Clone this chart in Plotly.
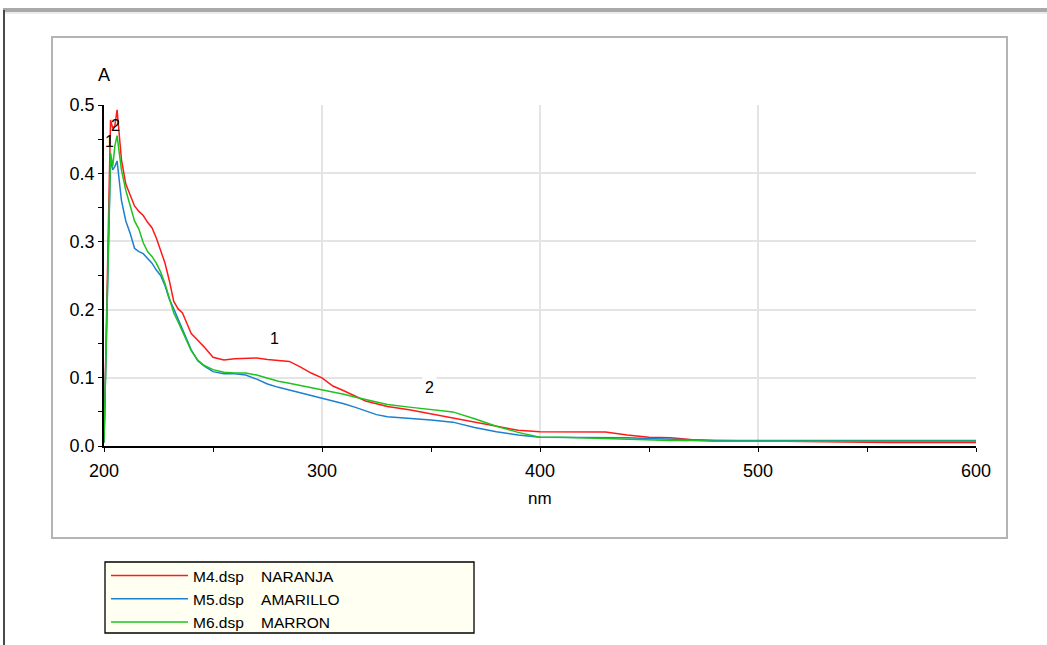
import plotly.graph_objects as go

# Wavelength grid (nm) shared by the three spectra
wavelength = [200, 201, 202, 203, 204, 205, 206, 207, 208, 210, 212, 214, 216, 218,
              220, 222, 224, 226, 228, 230, 232, 234, 236, 238, 240, 243, 246, 250,
              255, 260, 265, 270, 275, 280, 285, 290, 295, 300, 305, 310, 315, 320,
              325, 330, 340, 350, 360, 370, 380, 390, 400, 410, 420, 430, 440, 450,
              460, 470, 480, 500, 520, 540, 560, 580, 600]

# Absorbance of each sample
abs_m4 = [0.005, 0.18, 0.34, 0.478, 0.466, 0.47, 0.493, 0.455, 0.42, 0.384, 0.368, 0.352,
          0.344, 0.338, 0.328, 0.32, 0.305, 0.287, 0.268, 0.242, 0.212, 0.201, 0.195, 0.180,
          0.165, 0.155, 0.145, 0.130, 0.126, 0.128, 0.129, 0.129, 0.127, 0.126, 0.124,
          0.116, 0.107, 0.100, 0.088, 0.081, 0.074, 0.066, 0.062, 0.058, 0.053, 0.047,
          0.042, 0.036, 0.029, 0.023, 0.021, 0.021, 0.021, 0.0205, 0.016, 0.013, 0.012,
          0.009, 0.008, 0.007, 0.007, 0.006, 0.005, 0.005, 0.005]
abs_m5 = [0.005, 0.15, 0.30, 0.42, 0.405, 0.41, 0.418, 0.39, 0.36, 0.33, 0.312, 0.29,
          0.285, 0.282, 0.275, 0.268, 0.258, 0.25, 0.235, 0.215, 0.201, 0.187, 0.171, 0.156,
          0.141, 0.125, 0.117, 0.109, 0.106, 0.106, 0.104, 0.098, 0.091, 0.086, 0.082,
          0.078, 0.074, 0.071, 0.067, 0.062, 0.057, 0.051, 0.046, 0.043, 0.041, 0.038,
          0.035, 0.027, 0.021, 0.016, 0.013, 0.013, 0.013, 0.013, 0.012, 0.011, 0.010,
          0.009, 0.008, 0.008, 0.008, 0.008, 0.009, 0.009, 0.008]
abs_m6 = [0.005, 0.16, 0.31, 0.43, 0.41, 0.44, 0.455, 0.425, 0.405, 0.375, 0.352, 0.33,
          0.318, 0.298, 0.285, 0.278, 0.268, 0.255, 0.238, 0.218, 0.195, 0.182, 0.168, 0.155,
          0.140, 0.126, 0.118, 0.112, 0.108, 0.107, 0.107, 0.104, 0.099, 0.095, 0.092,
          0.089, 0.085, 0.082, 0.079, 0.076, 0.072, 0.068, 0.064, 0.061, 0.057, 0.054,
          0.050, 0.040, 0.029, 0.020, 0.013, 0.013, 0.012, 0.010, 0.009, 0.008, 0.008,
          0.008, 0.007, 0.007, 0.007, 0.007, 0.008, 0.008, 0.007]

series_names = ["M4.dsp\u00a0\u00a0\u00a0\u00a0NARANJA",
                "M5.dsp\u00a0\u00a0\u00a0\u00a0AMARILLO",
                "M6.dsp\u00a0\u00a0\u00a0\u00a0MARRON"]
series_colors = ["#ff1a1a", "#1b80d0", "#1ec31e"]

# Peak labels: (wavelength, absorbance, text)
peak_x = [202.3, 205.5, 278.2, 349.1]
peak_y = [0.446, 0.470, 0.158, 0.0858]
peak_text = ["1", "2", "1", "2"]

x_range = [200, 600]
y_range = [0, 0.5]

FONT = "Liberation Sans, Arial, sans-serif"

# Figure geometry (pixels) used to place frame decorations in paper coordinates
W, H = 1047, 645
ML, MR, MT, MB = 104, 71, 105, 199
PW, PH = W - ML - MR, H - MT - MB


def px(xp):
    return (xp - ML) / PW


def py(yp):
    return (H - MB - yp) / PH


fig = go.Figure()
for name, color, vals in zip(series_names, series_colors, [abs_m4, abs_m5, abs_m6]):
    fig.add_trace(go.Scatter(x=wavelength, y=vals, mode="lines", name=name,
                             line=dict(color=color, width=1.5)))

for xv, yv, t in zip(peak_x, peak_y, peak_text):
    fig.add_annotation(x=xv, y=yv, text=t, showarrow=False,
                       font=dict(family=FONT, size=16, color="black"),
                       bgcolor="white" if xv > 300 else None, borderpad=2)

# Axis titles
fig.add_annotation(xref="paper", yref="paper", x=0, y=py(75), text="A",
                   xanchor="center", yanchor="middle", showarrow=False,
                   font=dict(family=FONT, size=18, color="black"))
fig.add_annotation(xref="paper", yref="paper", x=0.5, y=py(498), text="nm",
                   xanchor="center", yanchor="middle", showarrow=False,
                   font=dict(family=FONT, size=17, color="black"))

axis_common = dict(showline=True, linecolor="black", linewidth=1.5,
                   ticks="outside", ticklen=4, tickwidth=1.3, tickcolor="black",
                   gridcolor="#e4e4e4", gridwidth=1.5, zeroline=False,
                   tickfont=dict(family=FONT, size=18, color="black"))

fig.update_layout(
    width=W, height=H,
    margin=dict(l=ML, r=MR, t=MT, b=MB, autoexpand=False),
    paper_bgcolor="white", plot_bgcolor="white",
    xaxis=dict(range=x_range, tick0=200, dtick=100, ticklabelstandoff=4,
               minor=dict(dtick=50, ticks="outside", ticklen=4, tickcolor="black",
                          showgrid=False),
               **axis_common),
    yaxis=dict(range=y_range, tick0=0, dtick=0.1, tickformat=".1f",
               minor=dict(dtick=0.05, ticks="outside", ticklen=4, tickcolor="black",
                          showgrid=False),
               **axis_common),
    # companion axes drawing the inner half of each tick
    xaxis2=dict(overlaying="x", anchor="y2", range=x_range, tick0=200, dtick=50,
                ticks="inside", ticklen=4, tickwidth=1.3, tickcolor="black",
                showticklabels=False, showgrid=False, zeroline=False, showline=False),
    yaxis2=dict(overlaying="y", anchor="x2", range=y_range, tick0=0, dtick=0.05,
                ticks="inside", ticklen=4, tickwidth=1.3, tickcolor="black",
                showticklabels=False, showgrid=False, zeroline=False, showline=False),
    legend=dict(x=px(106), y=py(559), xanchor="left", yanchor="top",
                bgcolor="rgba(0,0,0,0)", borderwidth=0, itemwidth=77,
                font=dict(family=FONT, size=15.5, color="black"), tracegroupgap=0),
    showlegend=True,
    shapes=[
        # window frame
        dict(type="rect", xref="paper", yref="paper", x0=px(3), x1=px(W), y0=py(12), y1=py(8),
             fillcolor="#a9a9a9", line=dict(width=0), layer="below"),
        dict(type="rect", xref="paper", yref="paper", x0=px(3), x1=px(W), y0=py(14), y1=py(12),
             fillcolor="#ececec", line=dict(width=0), layer="below"),
        dict(type="rect", xref="paper", yref="paper", x0=px(3), x1=px(5), y0=py(H), y1=py(10),
             fillcolor="#4a4a4a", line=dict(width=0), layer="below"),
        # chart panel
        dict(type="rect", xref="paper", yref="paper", x0=px(52), x1=px(1007), y0=py(538), y1=py(37),
             fillcolor="rgba(0,0,0,0)", line=dict(color="#b4b4b4", width=2), layer="below"),
        # legend box
        dict(type="rect", xref="paper", yref="paper", x0=px(105), x1=px(474), y0=py(633), y1=py(562),
             fillcolor="#fffff2", line=dict(color="black", width=1.3), layer="below"),
    ],
)

fig.write_html("out.html")
